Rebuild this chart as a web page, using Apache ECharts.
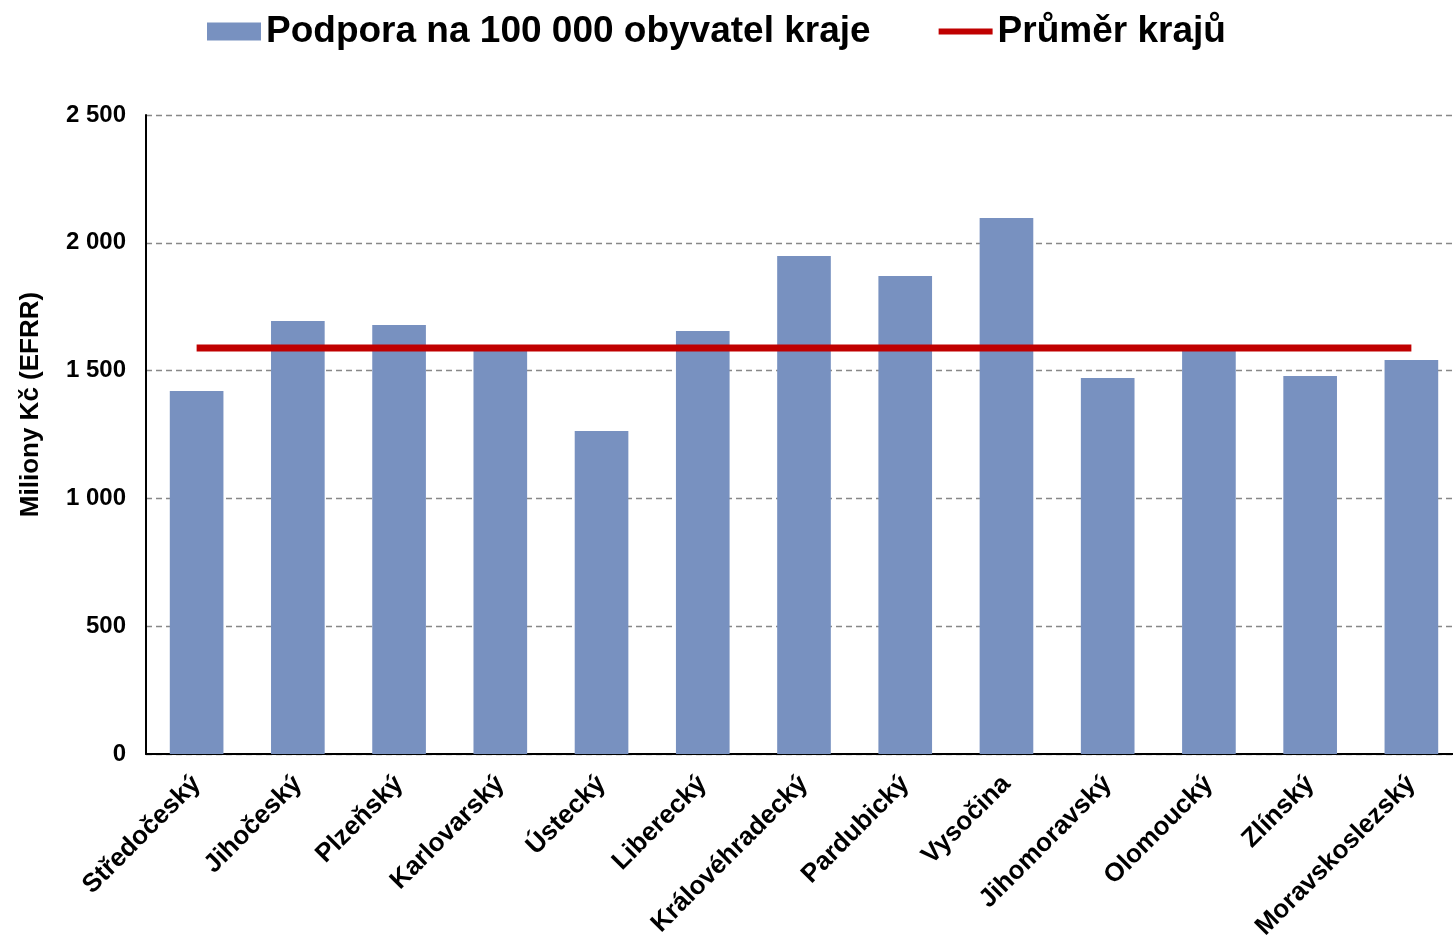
<!DOCTYPE html>
<html>
<head>
<meta charset="utf-8">
<script src="https://cdn.jsdelivr.net/npm/echarts@6/dist/echarts.min.js"></script>
<style>html,body{margin:0;padding:0;background:#fff}#c{width:1453px;height:941px}</style>
</head>
<body>
<div id="c"></div>
<script>
const categories = ['Středočeský','Jihočeský','Plzeňský','Karlovarský','Ústecký','Liberecký','Královéhradecký','Pardubický','Vysočina','Jihomoravský','Olomoucký','Zlínský','Moravskoslezský'];
const supportValues = [1420, 1694, 1678, 1580, 1264, 1655, 1948, 1870, 2097, 1471, 1585, 1479, 1541];
const averageValue = 1588;
const averageValues = categories.map(() => averageValue);
const yTicks = [0, 500, 1000, 1500, 2000, 2500];

const FONT = '"Liberation Sans", Arial, sans-serif';
const chart = echarts.init(document.getElementById('c'));
chart.setOption({
  animation: false,
  textStyle: {fontFamily: FONT},
  legend: {
    top: 8, left: 202,
    itemWidth: 54, itemHeight: 18, itemGap: 68,
    textStyle: {fontFamily: FONT, fontWeight: 'bold', fontSize: 37, color: '#000'},
    data: [
      {name: 'Podpora na 100 000 obyvatel kraje', icon: 'rect'},
      {name: 'Průměr krajů', icon: 'path://M0,0L54,0L54,0.01ZM0,6L54,6L54,12L0,12ZM0,18L54,18L54,18.01Z'}
    ]
  },
  grid: {left: 146, right: -9, top: 115, bottom: 187, containLabel: false, outerBoundsMode: 'none'},
  xAxis: {
    type: 'category', data: categories,
    axisLine: {lineStyle: {color: '#000', width: 2}},
    axisTick: {show: false},
    axisLabel: {rotate: 45, interval: 0, fontFamily: FONT, fontWeight: 'bold', fontSize: 26, color: '#000', margin: 26}
  },
  yAxis: {
    type: 'value', min: 0, max: 2500, interval: 500,
    name: 'Miliony Kč (EFRR)', nameLocation: 'middle', nameGap: 102, nameRotate: 90,
    nameTextStyle: {fontFamily: FONT, fontWeight: 'bold', fontSize: 26, color: '#000', padding: [0, 0, 0, 60]},
    axisLine: {show: true, lineStyle: {color: '#000', width: 2}},
    axisTick: {show: false},
    splitLine: {lineStyle: {color: '#888', type: [6, 4], width: 1.3}},
    axisLabel: {fontFamily: FONT, fontWeight: 'bold', fontSize: 24, color: '#000', margin: 20,
      formatter: v => yTicks.includes(v) ? String(v).replace(/\B(?=(\d{3})+(?!\d))/g, ' ') : ''}
  },
  series: [
    {name: 'Podpora na 100 000 obyvatel kraje', type: 'bar', data: supportValues, barWidth: '53%',
     itemStyle: {color: '#7891C0'}, z: 2},
    {name: 'Průměr krajů', type: 'line', data: averageValues, symbol: 'none',
     lineStyle: {color: '#C00000', width: 7}, itemStyle: {color: '#C00000'}, z: 3}
  ]
});
</script>
</body>
</html>
